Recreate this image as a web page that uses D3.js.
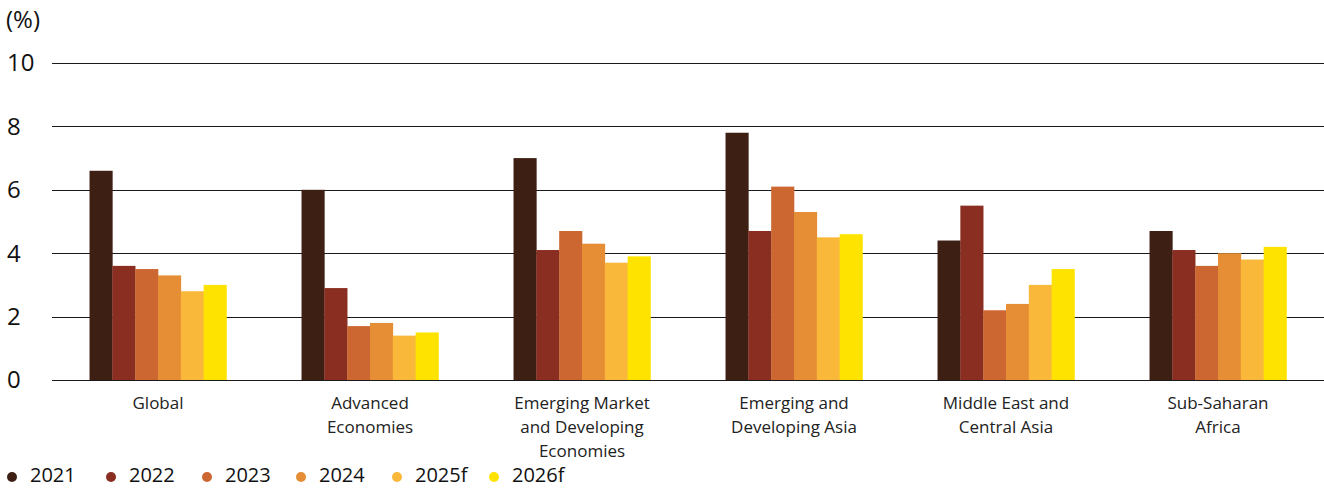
<!DOCTYPE html>
<html><head><meta charset="utf-8">
<script src="https://cdn.jsdelivr.net/npm/d3@7"></script>
<style>body{margin:0;background:#fff;} svg{display:block;font-family:"Open Sans",sans-serif;}</style>
</head><body>
<svg id="c" width="1324" height="488"></svg>
<script>
const categories = [["Global"],["Advanced","Economies"],["Emerging Market","and Developing","Economies"],["Emerging and","Developing Asia"],["Middle East and","Central Asia"],["Sub-Saharan","Africa"]];
const years = ["2021","2022","2023","2024","2025f","2026f"];
const colors = ["#3d1f14","#8b2e22","#cc6731","#e58e35","#f9b83a","#ffe300"];
const v2021 = [6.6, 6.0, 7.0, 7.8, 4.4, 4.7];
const v2022 = [3.6, 2.9, 4.1, 4.7, 5.5, 4.1];
const v2023 = [3.5, 1.7, 4.7, 6.1, 2.2, 3.6];
const v2024 = [3.3, 1.8, 4.3, 5.3, 2.4, 4.0];
const v2025 = [2.8, 1.4, 3.7, 4.5, 3.0, 3.8];
const v2026 = [3.0, 1.5, 3.9, 4.6, 3.5, 4.2];
const yTicks = [0, 2, 4, 6, 8, 10];

const series = [v2021, v2022, v2023, v2024, v2025, v2026];
const svg = d3.select("#c");
const mLeft = 52, mRight = 1324, mTop = 63, mBottom = 380;
const x0 = d3.scaleBand().domain(d3.range(categories.length)).range([mLeft, mRight]).paddingInner(0.354).paddingOuter(0.177);
const x1 = d3.scaleBand().domain(d3.range(years.length)).range([0, x0.bandwidth()]);
const y = d3.scaleLinear().domain([0, 10]).range([mBottom, mTop]);

// gridlines
svg.append("g").selectAll("line").data(yTicks).join("line")
  .attr("x1", mLeft).attr("x2", mRight)
  .attr("y1", d => Math.round(y(d)) + 0.5).attr("y2", d => Math.round(y(d)) + 0.5)
  .attr("stroke", "#1a1a1a").attr("stroke-width", 1);
svg.append("g").selectAll("text").data(yTicks).join("text")
  .attr("x", 7).attr("y", d => y(d)).attr("dy", "0.35em")
  .attr("font-size", 24).attr("fill", "#111").text(d => d);
svg.append("text").attr("x", 6).attr("y", 20).attr("dy", "0.35em").attr("font-size", 24).attr("fill", "#111").text("(%)");

// bars
const g = svg.append("g");
categories.forEach((c, i) => {
  series.forEach((s, j) => {
    g.append("rect")
      .attr("x", x0(i) + x1(j)).attr("width", x1.bandwidth() + 0.3)
      .attr("y", y(s[i])).attr("height", y(0) - y(s[i]))
      .attr("fill", colors[j]);
  });
});

// category labels
categories.forEach((c, i) => {
  const t = svg.append("text").attr("x", x0(i) + x0.bandwidth() / 2).attr("text-anchor", "middle")
    .attr("font-size", 17).attr("fill", "#222");
  c.forEach((line, k) => {
    t.append("tspan").attr("x", x0(i) + x0.bandwidth() / 2).attr("y", 409 + k * 24).text(line);
  });
});

// legend
const legX = [12, 111, 207, 301, 397, 494];
const lg = svg.append("g");
years.forEach((yr, j) => {
  lg.append("circle").attr("cx", legX[j]).attr("cy", 477).attr("r", 5).attr("fill", colors[j]);
  lg.append("text").attr("x", legX[j] + 18).attr("y", 482).attr("font-size", 20).attr("fill", "#111").text(yr);
});
</script>
</body></html>
